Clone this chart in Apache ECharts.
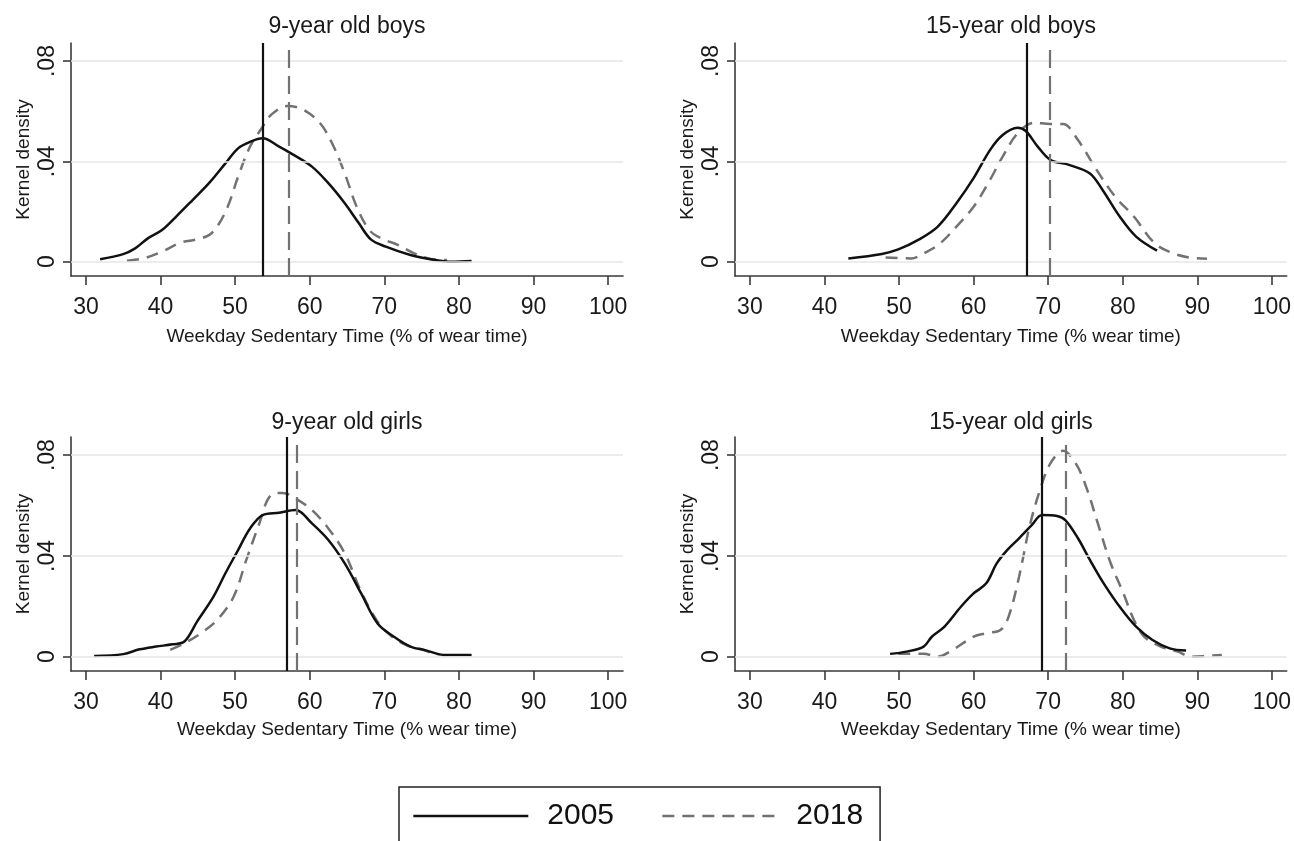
<!DOCTYPE html>
<html>
<head>
<meta charset="utf-8">
<script src="https://cdn.jsdelivr.net/npm/echarts@6/dist/echarts.min.js"></script>
<style>
  html, body { margin: 0; padding: 0; background: #ffffff; }
  #chart { width: 1294px; height: 841px; }
</style>
</head>
<body>
<div id="chart"></div>
<script>
// ---------------- data ----------------
const panelTitles = ['9-year old boys', '15-year old boys', '9-year old girls', '15-year old girls'];
const xAxisTitles = [
  'Weekday Sedentary Time (% of wear time)',
  'Weekday Sedentary Time (% wear time)',
  'Weekday Sedentary Time (% wear time)',
  'Weekday Sedentary Time (% wear time)'
];
const seriesNames = ['2005', '2018'];
const xTickValues = [30, 40, 50, 60, 70, 80, 90, 100];
const yTickValues = [0, 0.04, 0.08];

// [sedentary time %, kernel density]
const boys9_2005 = [[31.9,0.001],[35.0,0.003],[36.6,0.0053],[38.3,0.0093],[40.2,0.0126],[42.1,0.018],[44.3,0.0246],[46.5,0.0313],[48.7,0.0392],[50.4,0.0452],[52.0,0.0478],[53.7,0.0492],[55.9,0.0459],[57.5,0.0432],[60.3,0.0379],[62.5,0.0313],[64.7,0.0233],[66.6,0.0153],[68.2,0.0089],[70.2,0.006],[73.5,0.0027],[76.8,0.0007],[79.0,0.0],[81.7,0.0003]];
const boys9_2018 = [[35.5,0.0004],[37.7,0.0013],[40.2,0.004],[42.7,0.0076],[44.9,0.0089],[46.5,0.0106],[47.6,0.014],[49.0,0.0219],[50.4,0.0339],[52.0,0.0459],[53.7,0.0538],[54.8,0.0585],[57.0,0.0621],[59.2,0.0605],[61.4,0.0552],[63.0,0.0472],[64.7,0.0352],[66.3,0.0219],[68.0,0.0126],[69.6,0.0093],[71.8,0.0067],[74.0,0.0033],[76.2,0.0011],[78.4,0.0007]];
const boys15_2005 = [[43.2,0.0013],[47.7,0.0031],[49.9,0.0049],[52.7,0.0089],[55.2,0.014],[57.7,0.0233],[60.0,0.0333],[62.2,0.0445],[63.9,0.0505],[65.9,0.0534],[67.0,0.0521],[68.6,0.0459],[70.3,0.0406],[72.8,0.0386],[75.6,0.0352],[77.3,0.0286],[79.6,0.018],[81.8,0.01],[84.6,0.0044]];
const boys15_2018 = [[48.2,0.0017],[51.6,0.0013],[53.3,0.0033],[55.5,0.0073],[57.7,0.014],[60.0,0.0219],[62.2,0.0326],[63.9,0.0419],[65.9,0.0512],[68.1,0.0554],[70.3,0.0549],[72.0,0.0549],[74.0,0.0485],[76.5,0.0366],[79.0,0.0259],[81.5,0.018],[84.3,0.0073],[86.8,0.0033],[89.1,0.0016],[91.3,0.0012]];
const girls9_2005 = [[31.1,0.0003],[35.0,0.001],[37.2,0.0029],[39.4,0.004],[41.6,0.0049],[43.2,0.006],[44.9,0.0139],[47.1,0.0238],[48.7,0.0331],[50.4,0.0423],[52.0,0.0509],[53.7,0.0562],[55.9,0.0571],[58.1,0.0582],[60.3,0.0529],[62.5,0.0463],[64.7,0.037],[66.9,0.0251],[69.1,0.0132],[71.3,0.0079],[73.5,0.004],[75.7,0.0024],[77.9,0.0007],[81.7,0.0007]];
const girls9_2018 = [[41.3,0.0027],[43.2,0.0053],[45.4,0.0093],[47.6,0.0146],[49.8,0.0238],[51.5,0.0384],[53.1,0.0516],[54.8,0.0641],[56.4,0.065],[58.1,0.0628],[60.3,0.0582],[62.5,0.0509],[64.7,0.041],[66.9,0.0258],[69.1,0.0139],[71.3,0.0073],[73.5,0.004],[75.1,0.0029],[76.8,0.0008]];
const girls15_2005 = [[48.8,0.0011],[51.0,0.002],[53.3,0.004],[54.4,0.0079],[56.1,0.0119],[58.3,0.0198],[60.0,0.0251],[61.7,0.0291],[63.1,0.037],[64.5,0.0423],[66.1,0.047],[67.8,0.0522],[69.2,0.0562],[71.2,0.0558],[72.3,0.0542],[74.0,0.047],[75.6,0.0384],[77.3,0.0298],[79.6,0.0198],[81.8,0.0119],[84.0,0.0066],[86.3,0.0033],[88.5,0.0024]];
const girls15_2018 = [[49.9,0.0011],[53.3,0.0011],[55.2,0.0],[57.2,0.0027],[60.0,0.0079],[61.7,0.0093],[63.6,0.0106],[64.7,0.0159],[66.1,0.0317],[67.5,0.0516],[68.9,0.0661],[70.3,0.0767],[72.0,0.0817],[73.7,0.0767],[75.1,0.0674],[76.8,0.0516],[78.4,0.037],[80.1,0.0251],[81.5,0.0146],[82.9,0.0079],[85.1,0.004],[87.4,0.002],[89.1,0.0],[91.3,0.0003],[93.3,0.0007]];

// mean sedentary time per year: [2005, 2018]
const boys9Means = [53.7, 57.2];
const boys15Means = [67.1, 70.2];
const girls9Means = [56.9, 58.2];
const girls15Means = [69.2, 72.3];

const panelCurves = [
  [boys9_2005, boys9_2018],
  [boys15_2005, boys15_2018],
  [girls9_2005, girls9_2018],
  [girls15_2005, girls15_2018]
];
const panelMeans = [boys9Means, boys15Means, girls9Means, girls15Means];

// ---------------- layout / style ----------------
const FONT = '"Liberation Sans", Arial, Helvetica, sans-serif';
const TXT = '#1a1a1a';
const AXIS = '#3a3a3a';
const GRIDC = '#e6e6e6';
const SOLID = '#111111';
const DASH = '#727272';

const grids = [
  { left: 71,  top: 43,  width: 552, height: 233 },
  { left: 735, top: 43,  width: 552, height: 233 },
  { left: 71,  top: 437, width: 552, height: 234 },
  { left: 735, top: 437, width: 552, height: 234 }
];
const titleY = [27, 27, 423, 423];
const xNameGap = [51, 51, 49, 49];

const option = {
  animation: false,
  backgroundColor: '#ffffff',
  textStyle: { fontFamily: FONT },
  title: grids.map((g, i) => ({
    text: panelTitles[i],
    left: g.left + g.width / 2,
    top: titleY[i] - 12,
    textAlign: 'center',
    padding: 0,
    textStyle: { fontFamily: FONT, fontSize: 23, fontWeight: 'normal', color: TXT, lineHeight: 24 }
  })),
  legend: {
    data: seriesNames,
    left: 399,
    top: 787,
    orient: 'horizontal',
    itemWidth: 115,
    itemHeight: 30,
    itemGap: 47,
    padding: [14, 17, 14, 13],
    borderColor: '#222222',
    borderWidth: 1.5,
    selectedMode: false,
    itemStyle: { opacity: 0, borderWidth: 0 },
    lineStyle: { width: 2.6 },
    textStyle: { fontFamily: FONT, fontSize: 30, color: '#111111', padding: [0, 0, 0, 14] }
  },
  grid: grids.map(g => Object.assign({ containLabel: false }, g)),
  xAxis: grids.map((g, i) => ({
    type: 'value',
    gridIndex: i,
    min: 28,
    max: 102,
    name: xAxisTitles[i],
    nameLocation: 'middle',
    nameGap: xNameGap[i],
    nameTextStyle: { fontFamily: FONT, fontSize: 19, color: TXT },
    axisLine: { show: true, onZero: false, lineStyle: { color: AXIS, width: 1.6 } },
    axisTick: { show: true, length: 9, customValues: xTickValues, lineStyle: { color: AXIS, width: 1.6 } },
    axisLabel: { show: true, customValues: xTickValues, margin: 20, fontFamily: FONT, fontSize: 23, color: TXT },
    splitLine: { show: false }
  })),
  yAxis: grids.map((g, i) => ({
    type: 'value',
    gridIndex: i,
    min: -0.0057,
    max: 0.0872,
    name: 'Kernel density',
    nameLocation: 'middle',
    nameRotate: 90,
    nameGap: 37.5,
    nameTextStyle: { fontFamily: FONT, fontSize: 19, color: TXT },
    axisLine: { show: true, onZero: false, lineStyle: { color: AXIS, width: 1.6 } },
    axisTick: { show: true, length: 8, customValues: yTickValues, lineStyle: { color: AXIS, width: 1.6 } },
    axisLabel: {
      show: true, customValues: yTickValues, rotate: 90, margin: 12,
      fontFamily: FONT, fontSize: 23, color: TXT,
      formatter: v => (v === 0 ? '0' : String(+v.toFixed(2)).replace(/^0\./, '.'))
    },
    splitLine: { show: false }
  })),
  series: []
};

// horizontal reference lines (grid lines) per panel
grids.forEach((g, i) => {
  option.series.push({
    type: 'line',
    xAxisIndex: i,
    yAxisIndex: i,
    data: [],
    silent: true,
    z: 1,
    markLine: {
      silent: true,
      symbol: 'none',
      label: { show: false },
      lineStyle: { color: GRIDC, width: 1.5, type: 'solid' },
      data: yTickValues.map(v => ({ yAxis: v }))
    }
  });
});

// density curves + mean lines
grids.forEach((g, i) => {
  [0, 1].forEach(k => {
    const isSolid = k === 0;
    option.series.push({
      name: seriesNames[k],
      type: 'line',
      xAxisIndex: i,
      yAxisIndex: i,
      data: panelCurves[i][k],
      symbol: 'none',
      showSymbol: false,
      smooth: 0.35,
      z: isSolid ? 4 : 3,
      lineStyle: {
        color: isSolid ? SOLID : DASH,
        width: 2.5,
        type: isSolid ? 'solid' : [12, 8]
      },
      itemStyle: { color: isSolid ? SOLID : DASH },
      markLine: {
        silent: true,
        symbol: 'none',
        label: { show: false },
        lineStyle: {
          color: isSolid ? SOLID : DASH,
          width: isSolid ? 2.2 : 2.2,
          type: isSolid ? 'solid' : [18, 8]
        },
        data: [{ xAxis: panelMeans[i][k] }]
      }
    });
  });
});

const chart = echarts.init(document.getElementById('chart'), null, { renderer: 'canvas' });
chart.setOption(option);
</script>
</body>
</html>
